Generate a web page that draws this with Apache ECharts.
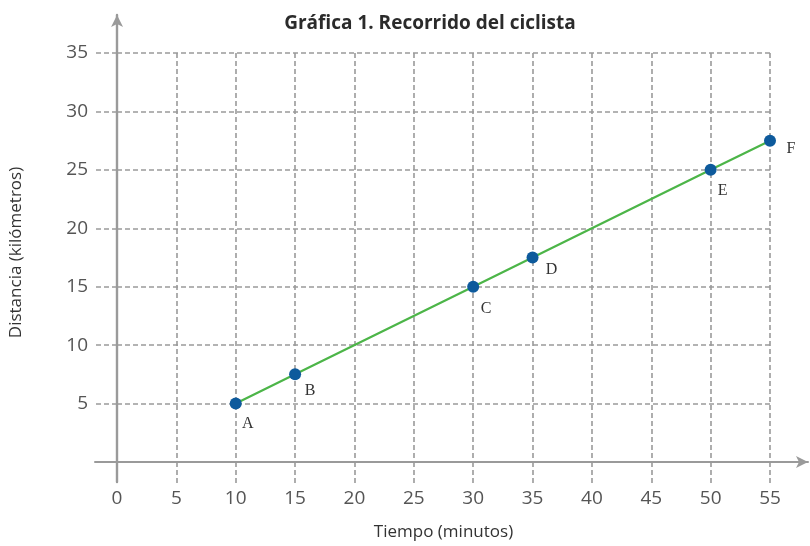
<!DOCTYPE html>
<html><head><meta charset="utf-8">
<script src="https://cdn.jsdelivr.net/npm/echarts@6/dist/echarts.min.js"></script>
<style>html,body{margin:0;padding:0;background:#fff}#c{width:810px;height:546px}</style>
</head><body><div id="c"></div>
<script>
const titleText = 'Gráfica 1. Recorrido del ciclista';
const xName = 'Tiempo (minutos)';
const yName = 'Distancia (kilómetros)';
const pointNames = ['A','B','C','D','E','F'];
const times = [10, 15, 30, 35, 50, 55];
const distances = [5, 7.5, 15, 17.5, 25, 27.5];
const xTicks = [0,5,10,15,20,25,30,35,40,45,50,55];
const yTicks = [0,5,10,15,20,25,30,35];

const labelOffsets = {A:[12,20],B:[15,16],C:[13,22],D:[19,12],E:[12,21],F:[21,8]};
const gridCol = '#9a9a9a';
const axisCol = '#9a9a9a';
const fontMain = '"Open Sans", "Liberation Sans", sans-serif';

const chart = echarts.init(document.getElementById('c'));
chart.setOption({
  backgroundColor: '#fff',
  animation: false,
  title: {
    text: titleText, left: 425, top: 9, textAlign: 'center',
    textStyle: {fontFamily: fontMain, fontWeight: 'bold', fontSize: 19, color: '#2b2b2b'}
  },
  grid: [
    {left: 117, right: 40, top: 53, bottom: 84},
    {left: 95, right: 2, top: 15, bottom: 64}
  ],
  xAxis: [
    {
      type: 'value', gridIndex: 0, min: xTicks[0], max: xTicks[xTicks.length-1], interval: 5,
      axisLine: {show: false},
      axisTick: {show: true, length: 21, lineStyle: {color: gridCol, type: [5,3], width: 1.6}},
      splitLine: {show: true, lineStyle: {color: gridCol, type: [5,3], width: 1.6}},
      axisLabel: {margin: 27, fontSize: 19, color: '#555', fontFamily: fontMain},
      name: xName, nameLocation: 'middle', nameGap: 62,
      nameTextStyle: {fontFamily: fontMain, fontSize: 17, color: '#333'}
    },
    {
      type: 'value', gridIndex: 1, min: -1.87, max: 58.6,
      axisLine: {show: true, onZero: true, symbol: ['none','arrow'], symbolSize: [9,12], lineStyle: {color: axisCol, width: 2}},
      axisTick: {show: false}, axisLabel: {show: false}, splitLine: {show: false}
    }
  ],
  yAxis: [
    {
      type: 'value', gridIndex: 0, min: yTicks[0], max: yTicks[yTicks.length-1], interval: 5,
      axisLine: {show: false},
      axisTick: {show: true, length: 22, lineStyle: {color: gridCol, type: [5,3], width: 1.6}},
      splitLine: {show: true, lineStyle: {color: gridCol, type: [5,3], width: 1.6}},
      axisLabel: {margin: 29, fontSize: 19, color: '#555', fontFamily: fontMain,
        formatter: v => v === 0 ? '' : String(v)},
      name: yName, nameLocation: 'middle', nameGap: 92, nameRotate: 90,
      nameTextStyle: {fontFamily: fontMain, fontSize: 17, color: '#333', padding: [0,0,0,10]}
    },
    {
      type: 'value', gridIndex: 1, min: -1.714, max: 38.3,
      axisLine: {show: true, onZero: true, symbol: ['none','arrow'], symbolSize: [9,12], lineStyle: {color: axisCol, width: 2.4}},
      axisTick: {show: false}, axisLabel: {show: false}, splitLine: {show: false}
    }
  ],
  series: [{
    type: 'line', xAxisIndex: 0, yAxisIndex: 0,
    data: times.map((t, i) => ({value: [t, distances[i]], name: pointNames[i]})),
    lineStyle: {color: '#4cb548', width: 2.2},
    symbol: 'circle', symbolSize: 12,
    itemStyle: {color: '#0d5a9c'},
    z: 5,
    label: {
      show: true, position: 'inside',
      formatter: p => p.name,
      fontFamily: '"Liberation Serif", "DejaVu Serif", serif', fontSize: 16, color: '#333'
    },
    labelLayout: p => {
      const o = labelOffsets[pointNames[p.dataIndex]];
      return {dx: o[0], dy: o[1]};
    }
  }]
});
</script></body></html>
